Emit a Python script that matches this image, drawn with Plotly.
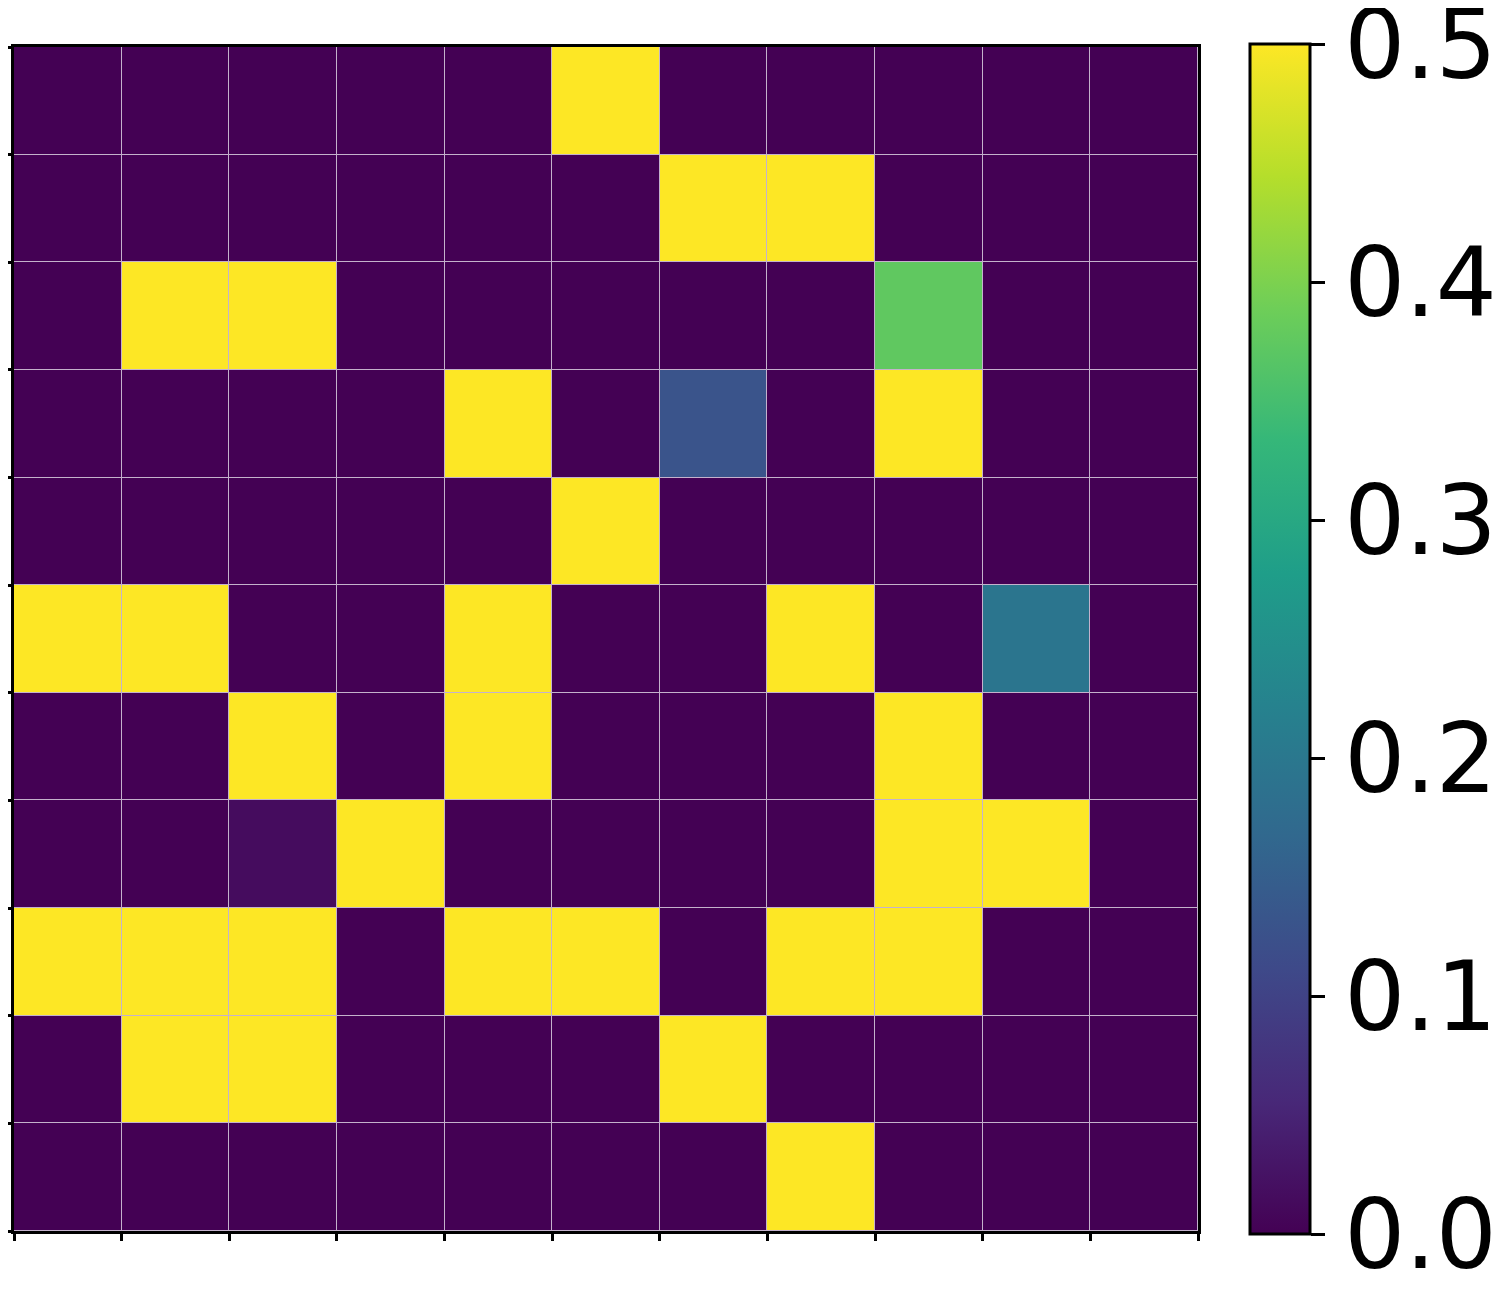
import plotly.graph_objects as go

# Grid values, row 0 = top row
z_values = [
    [0, 0, 0, 0, 0, 0.5, 0, 0, 0, 0, 0],
    [0, 0, 0, 0, 0, 0, 0.5, 0.5, 0, 0, 0],
    [0, 0.5, 0.5, 0, 0, 0, 0, 0, 0.375, 0, 0],
    [0, 0, 0, 0, 0.5, 0, 0.13, 0, 0.5, 0, 0],
    [0, 0, 0, 0, 0, 0.5, 0, 0, 0, 0, 0],
    [0.5, 0.5, 0, 0, 0.5, 0, 0, 0.5, 0, 0.195, 0],
    [0, 0, 0.5, 0, 0.5, 0, 0, 0, 0.5, 0, 0],
    [0, 0, 0.015, 0.5, 0, 0, 0, 0, 0.5, 0.5, 0],
    [0.5, 0.5, 0.5, 0, 0.5, 0.5, 0, 0.5, 0.5, 0, 0],
    [0, 0.5, 0.5, 0, 0, 0, 0.5, 0, 0, 0, 0],
    [0, 0, 0, 0, 0, 0, 0, 0.5, 0, 0, 0],
]
x_centers = [i + 0.5 for i in range(11)]
y_centers = [i + 0.5 for i in range(11)]
tick_positions = list(range(12))
cbar_ticks = [0.0, 0.1, 0.2, 0.3, 0.4, 0.49999]
cbar_labels = ["0.0", "0.1", "0.2", "0.3", "0.4", "0.5"]

fig = go.Figure()
fig.add_trace(go.Heatmap(
    z=z_values, x=x_centers, y=y_centers,
    colorscale="Viridis", zmin=0, zmax=0.5,
    xgap=1, ygap=1,
    colorbar=dict(
        x=1.0439, xanchor="left", xpad=0, ypad=0,
        y=0.5, yanchor="middle",
        thickness=60, thicknessmode="pixels",
        len=1190, lenmode="pixels",
        outlinewidth=3, outlinecolor="black",
        tickvals=cbar_ticks, ticktext=cbar_labels,
        ticks="outside", ticklen=14, tickwidth=3, tickcolor="black",
        ticklabeloverflow="allow",
        tickfont=dict(size=96, family="DejaVu Sans", color="black"),
    ),
))

axis_common = dict(
    tickvals=tick_positions, showticklabels=False,
    ticks="outside", ticklen=7, tickwidth=2.5, tickcolor="black",
    showline=True, linewidth=3, linecolor="black", mirror=True,
    showgrid=False, zeroline=False,
)
fig.update_xaxes(range=[0, 11], **axis_common)
fig.update_yaxes(range=[11, 0], **axis_common)

fig.update_layout(
    width=1495, height=1292,
    margin=dict(l=6, r=305, t=39, b=69, autoexpand=False),
    plot_bgcolor="#c4b2cc", paper_bgcolor="white",
)
fig.write_html("out.html")
